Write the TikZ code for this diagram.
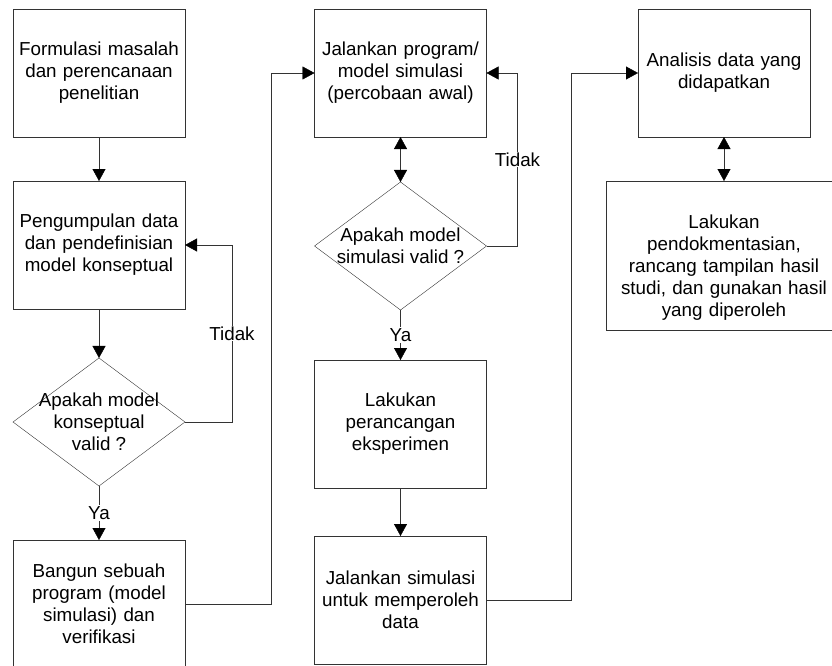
\documentclass[tikz,border=0pt]{standalone}
\usepackage{fontspec}
\setmainfont{Liberation Sans}
\usetikzlibrary{arrows.meta,shapes.geometric,positioning}
\tikzstyle{every node}=[font=\fontsize{18.8}{22}\selectfont, outer sep=0pt]

\begin{document}
\begin{tikzpicture}[
    x=1pt, y=-1pt,
    node distance=44pt,
    process/.style={
        draw=black!80,
        minimum width=172pt,
        minimum height=128pt,
        text width=164pt,
        text centered,
        inner sep=4pt},
    decision/.style={
        draw=black!80,
        diamond,
        minimum width=172pt,
        minimum height=128pt,
        align=center,
        inner xsep=-30pt,
        inner ysep=-22pt},
    answer/.style={fill=white, inner sep=1pt},
    flow/.style={draw=black!80, -{Triangle[length=12pt,width=13pt,color=black]}},
    both/.style={draw=black!80, {Triangle[length=12pt,width=13pt,color=black]}-{Triangle[length=12pt,width=13pt,color=black]}},
  ]
  \useasboundingbox (0,0) rectangle (832,666);
  \clip (0,0) rectangle (832,666);
  % Kolom pertama
  \node[process] (masalah) at (99,73) {Formulasi masalah\\ dan perencanaan\\ penelitian};
  \node[process, below=of masalah] (data) {Pengumpulan data\\ dan pendefinisian\\ model konseptual};
  \node[decision, below=49pt of data] (valid1) {Apakah model\\ konseptual\\ valid ?};
  \node[process, below=54pt of valid1] (program) {Bangun sebuah\\ program (model\\ simulasi) dan\\ verifikasi};
  % Kolom kedua
  \node[process] (jalankan) at (400.5,73) {Jalankan program/\\ model simulasi\\ (percobaan awal)};
  \node[decision, below=45pt of jalankan] (valid2) {Apakah model\\ simulasi valid ?};
  \node[process, below=50pt of valid2] (rancang) {Lakukan\\ perancangan\\ eksperimen};
  \node[process, below=48pt of rancang] (simulasi) {Jalankan simulasi\\ untuk memperoleh\\ data};
  % Kolom ketiga
  \node[process] (analisis) at (724,73) {Analisis data yang\\ didapatkan};
  \node[process, below=of analisis, minimum width=236pt, minimum height=149pt, text width=228pt] (dokumentasi)
      {\rule{0pt}{37pt}Lakukan\\ pendokmentasian,\\ rancang tampilan hasil\\ studi, dan gunakan hasil\\ yang diperoleh};
  % Panah
  \draw[flow] (masalah) -- (data);
  \draw[flow] (data) -- (valid1);
  \draw[flow] (valid1) -- node[answer]{Ya} (program);
  \draw[flow] (valid1.east) -- ++(47,0) |- node[answer, pos=0.25]{Tidak} (data.east);
  \draw[flow] (program.east) -- ++(86,0) |- (jalankan.west);
  \draw[both] (jalankan) -- (valid2);
  \draw[flow] (valid2) -- node[answer]{Ya} (rancang);
  \draw[flow] (valid2.east) -- ++(31,0) |- node[answer, pos=0.25]{Tidak} (jalankan.east);
  \draw[flow] (rancang) -- (simulasi);
  \draw[flow] (simulasi.east) -- ++(85,0) |- (analisis.west);
  \draw[both] (analisis) -- (dokumentasi);
\end{tikzpicture}
\end{document}
